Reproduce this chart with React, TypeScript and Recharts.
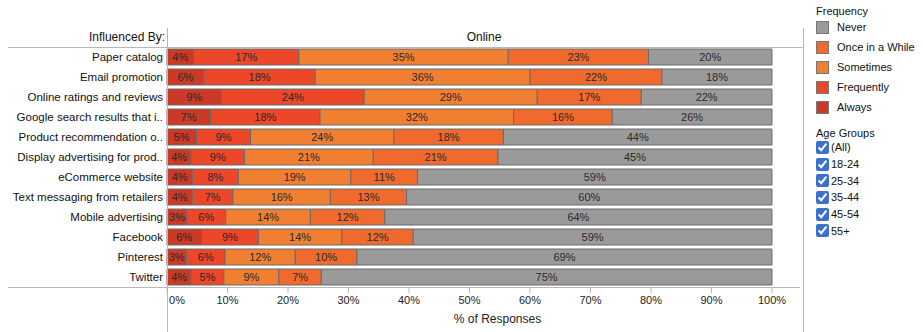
import { BarChart, Bar, XAxis, YAxis, LabelList, Label } from "recharts";

const categories = [
  "Paper catalog",
  "Email promotion",
  "Online ratings and reviews",
  "Google search results that i..",
  "Product recommendation o..",
  "Display advertising for prod..",
  "eCommerce website",
  "Text messaging from retailers",
  "Mobile advertising",
  "Facebook",
  "Pinterest",
  "Twitter",
];

// % of responses
const always = [4.4, 6.1, 9.0, 7.2, 4.9, 4.0, 4.2, 4.2, 3.3, 5.7, 3.2, 4.0];
const frequently = [17.4, 18.4, 23.6, 18.1, 8.9, 8.8, 7.6, 6.7, 6.4, 9.4, 6.4, 5.4];
const sometimes = [34.6, 35.5, 28.6, 32.0, 23.7, 21.3, 18.6, 16.1, 14.0, 13.8, 11.6, 9.1];
const onceInAWhile = [23.2, 21.8, 17.2, 16.3, 18.1, 20.6, 11.0, 12.6, 12.3, 11.8, 10.2, 7.0];
const never = [20.4, 18.2, 21.6, 26.4, 44.4, 45.3, 58.6, 60.4, 64.0, 59.3, 68.6, 74.5];

const xTicks = [0, 10, 20, 30, 40, 50, 60, 70, 80, 90, 100];
const ageGroups = ["(All)", "18-24", "25-34", "35-44", "45-54", "55+"];

const series = [
  { key: "always", name: "Always", color: "#cb3a27" },
  { key: "frequently", name: "Frequently", color: "#eb4728" },
  { key: "sometimes", name: "Sometimes", color: "#f07f31" },
  { key: "onceInAWhile", name: "Once in a While", color: "#ef6a2c" },
  { key: "never", name: "Never", color: "#9a9a9a" },
];

const data = categories.map((name, i) => ({
  name,
  always: always[i],
  frequently: frequently[i],
  sometimes: sometimes[i],
  onceInAWhile: onceInAWhile[i],
  never: never[i],
}));

const FONT = "'Liberation Sans', Arial, sans-serif";
const LINE = "#b8b8b8";

const XTick = (props: any) => {
  const { x, y, payload } = props;
  const first = payload.value === 0;
  return (
    <text
      x={first ? x + 2 : x}
      y={y + 9}
      textAnchor={first ? "start" : "middle"}
      fontSize={11}
      fontFamily={FONT}
      fill="#222"
    >
      {payload.value}%
    </text>
  );
};

// plain text so long names never wrap
const YTick = (props: any) => {
  const { x, y, payload } = props;
  return (
    <text x={x} y={y} dy={4} textAnchor="end" fontSize={11.5} fontFamily={FONT} fill="#111">
      {payload.value}
    </text>
  );
};

const App = () => {
  return (
    <div style={{ position: "absolute", left: 0, top: 0, width: 923, height: 332, fontFamily: FONT }}>
      <BarChart
        width={923}
        height={332}
        data={data}
        layout="vertical"
        margin={{ top: 47, right: 123, left: 0, bottom: 0 }}
        barCategoryGap={2}
      >
        <XAxis
          type="number"
          domain={[0, 104.63]}
          ticks={xTicks}
          axisLine={false}
          tickSize={6}
          tickLine={{ stroke: LINE }}
          height={45}
          tick={<XTick />}
        >
          <Label
            value="% of Responses"
            position="insideBottom"
            offset={9}
            dx={14}
            style={{ fontSize: 12, fontFamily: FONT, fill: "#222" }}
          />
        </XAxis>
        <YAxis
          type="category"
          dataKey="name"
          width={167}
          axisLine={false}
          tickLine={false}
          tickSize={0}
          tickMargin={4}
          interval={0}
          tick={<YTick />}
        />
        {series.map((s) => (
          <Bar
            key={s.key}
            dataKey={s.key}
            name={s.name}
            stackId="a"
            fill={s.color}
            stroke="#6b6b6b"
            strokeWidth={1}
            isAnimationActive={false}
          >
            <LabelList
              dataKey={s.key}
              position="center"
              formatter={(v: any) => `${Math.round(Number(v))}%`}
              style={{ fontSize: 11, fontFamily: FONT, fill: "#2a2a2a" }}
            />
          </Bar>
        ))}
      </BarChart>

      {/* frame lines and header */}
      <svg
        width={923}
        height={332}
        style={{ position: "absolute", left: 0, top: 0, pointerEvents: "none" }}
      >
        <line x1={8} x2={803} y1={47.5} y2={47.5} stroke={LINE} />
        <line x1={8} x2={800} y1={287.5} y2={287.5} stroke={LINE} />
        <line x1={167.5} x2={167.5} y1={28} y2={332} stroke={LINE} />
        <line x1={803.5} x2={803.5} y1={28} y2={332} stroke={LINE} />
        <text x={165} y={41} textAnchor="end" fontSize={12} fontFamily={FONT} fill="#111">
          Influenced By:
        </text>
        <text x={484} y={41} textAnchor="middle" fontSize={12} fontFamily={FONT} fill="#111">
          Online
        </text>
      </svg>

      {/* legends */}
      <div style={{ position: "absolute", left: 816, top: 5, fontSize: 11, color: "#111" }}>
        <div style={{ height: 12, lineHeight: "12px" }}>Frequency</div>
        {[...series].reverse().map((s) => (
          <div key={s.key} style={{ display: "flex", alignItems: "center", height: 20 }}>
            <span
              style={{
                display: "inline-block",
                width: 11,
                height: 11,
                background: s.color,
                border: "1px solid #777",
                marginRight: 8,
              }}
            />
            <span>{s.name}</span>
          </div>
        ))}
        <div style={{ height: 12, lineHeight: "12px", marginTop: 10 }}>Age Groups</div>
        {ageGroups.map((g) => (
          <div key={g} style={{ display: "flex", alignItems: "center", height: 16.7 }}>
            <input
              type="checkbox"
              checked
              readOnly
              style={{ margin: "0 2px 0 0", width: 13, height: 13, accentColor: "#3b6fd0" }}
            />
            <span>{g}</span>
          </div>
        ))}
      </div>
    </div>
  );
};

export default App;
